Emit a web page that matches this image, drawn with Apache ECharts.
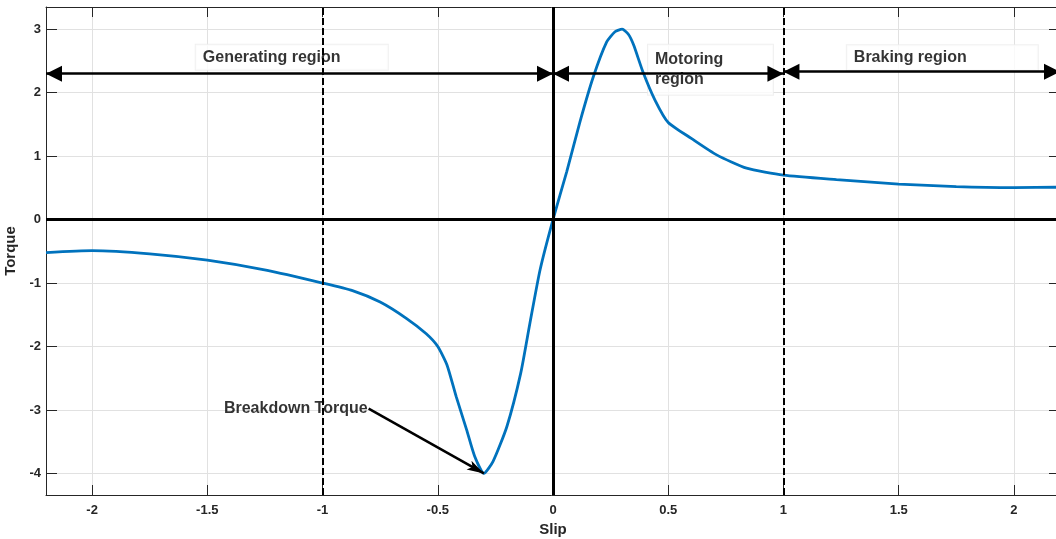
<!DOCTYPE html>
<html>
<head>
<meta charset="utf-8">
<title>Torque - Slip</title>
<script src="https://cdn.jsdelivr.net/npm/echarts@6.0.0/dist/echarts.min.js"></script>
<style>
  html, body { margin: 0; padding: 0; background: #fff; }
  #main { width: 1056px; height: 539px; }
</style>
</head>
<body>
<div id="main"></div>
<script>
// values
const slip   = [-2.2, -2, -1.75, -1.5, -1.24, -1, -0.87, -0.75, -0.635, -0.55, -0.5, -0.46, -0.42, -0.375, -0.34, -0.3, -0.26, -0.2, -0.14, -0.1, -0.056, 0, 0.06, 0.117, 0.175, 0.233, 0.269, 0.3, 0.327, 0.35, 0.39, 0.443, 0.5, 0.6, 0.71, 0.84, 1, 1.23, 1.5, 1.75, 2, 2.2];
const torque = [-0.52, -0.49, -0.54, -0.64, -0.8, -1.0, -1.12, -1.3, -1.56, -1.8, -2.0, -2.29, -2.79, -3.31, -3.73, -4.0, -3.81, -3.26, -2.42, -1.63, -0.79, 0, 0.76, 1.54, 2.25, 2.8, 2.96, 3.0, 2.92, 2.75, 2.33, 1.88, 1.53, 1.28, 1.02, 0.81, 0.7, 0.63, 0.56, 0.52, 0.505, 0.51];

const xRange = [-2.2, 2.2];
const yRange = [-4.34, 3.35];

const solidLinesX = [0];
const solidLinesY = [0];
const dashedLinesX = [-1, 1];

const regionNames = ['Generating region', 'Motoring\nregion', 'Braking region'];
const regionFrom  = [-2.2, 0, 1];
const regionTo    = [0, 1, 2.2];
const regionY     = [2.3, 2.3, 2.33];

const breakdownFrom = [-0.8, -2.98];
const breakdownTo   = [-0.3, -4];

const font = "'Liberation Sans', Arial, Helvetica, sans-serif";
const axisColor = '#262626';
const gridColor = '#e1e1e1';

// arrow heads with their tip at the symbol centre
const headBig = 'path://M0,0 L8,16 L-8,16 Z M0,-16 L0,-16';
const headSmall = 'path://M0,0 L5,17 L0,13 L-5,17 Z M0,-17 L0,-17';

const boxLabel = {
  show: true,
  position: 'right',
  distance: 0,
  fontFamily: font,
  fontSize: 16,
  fontWeight: 'bold',
  color: '#000',
  backgroundColor: '#fff',
  borderColor: '#ececec',
  borderWidth: 1
};

const chart = echarts.init(document.getElementById('main'));

const option = {
  animation: false,
  textStyle: { fontFamily: font },
  grid: { left: 46, top: 7, width: 1014, height: 488, outerBoundsMode: 'none' },
  xAxis: [
    {
      type: 'value', min: xRange[0], max: xRange[1], splitNumber: 9, position: 'bottom',
      name: 'Slip', nameLocation: 'middle', nameGap: 27,
      nameTextStyle: { fontFamily: font, fontSize: 15, fontWeight: 'bold', color: axisColor },
      axisLine: { onZero: false, lineStyle: { color: axisColor, width: 1 } },
      axisTick: { inside: true, length: 10, lineStyle: { color: axisColor } },
      axisLabel: { margin: 9, fontFamily: font, fontSize: 13, fontWeight: 'bold', color: axisColor, showMinLabel: false, showMaxLabel: false },
      splitLine: { show: true, lineStyle: { color: gridColor, width: 1 } }
    },
    {
      type: 'value', min: xRange[0], max: xRange[1], splitNumber: 9, position: 'top',
      axisLine: { onZero: false, lineStyle: { color: axisColor, width: 1 } },
      axisTick: { inside: true, length: 10, lineStyle: { color: axisColor } },
      axisLabel: { show: false },
      splitLine: { show: false }
    }
  ],
  yAxis: [
    {
      type: 'value', min: yRange[0], max: yRange[1], splitNumber: 8, position: 'left',
      name: 'Torque', nameLocation: 'middle', nameGap: 24,
      nameTextStyle: { fontFamily: font, fontSize: 15, fontWeight: 'bold', color: axisColor },
      axisLine: { onZero: false, lineStyle: { color: axisColor, width: 1 } },
      axisTick: { inside: true, length: 11, lineStyle: { color: axisColor } },
      axisLabel: { margin: 5, fontFamily: font, fontSize: 13, fontWeight: 'bold', color: axisColor, showMinLabel: false, showMaxLabel: false },
      splitLine: { show: true, lineStyle: { color: gridColor, width: 1 } }
    },
    {
      type: 'value', min: yRange[0], max: yRange[1], splitNumber: 8, position: 'right',
      axisLine: { onZero: false, lineStyle: { color: axisColor, width: 1 } },
      axisTick: { inside: true, length: 11, lineStyle: { color: axisColor } },
      axisLabel: { show: false },
      splitLine: { show: false }
    }
  ],
  series: [
    {
      name: 'labels',
      type: 'scatter',
      z: 1,
      silent: true,
      symbolSize: 0,
      data: [
        { value: [-1.55, 2.56], label: Object.assign({}, boxLabel, { formatter: regionNames[0], width: 178, lineHeight: 18, padding: [5, 7, 2, 7] }) },
        { value: [0.412, 2.36], label: Object.assign({}, boxLabel, { formatter: regionNames[1], width: 111, lineHeight: 20, padding: [6, 7, 4, 7] }) },
        { value: [1.275, 2.55], label: Object.assign({}, boxLabel, { formatter: regionNames[2], width: 177, lineHeight: 18, padding: [5, 7, 2, 7] }) },
        {
          value: breakdownFrom,
          label: { show: true, position: 'left', distance: 1, formatter: 'Breakdown Torque', fontFamily: font, fontSize: 16, fontWeight: 'bold', color: '#000' }
        }
      ]
    },
    {
      name: 'Torque',
      type: 'line',
      z: 3,
      data: slip.map((s, i) => [s, torque[i]]),
      showSymbol: false,
      smooth: 0.2,
      lineStyle: { color: '#0072BD', width: 2.8 }
    },
    {
      name: 'axes lines',
      type: 'line',
      z: 4,
      data: [],
      markLine: {
        silent: true,
        symbol: 'none',
        label: { show: false },
        data: [
          ...solidLinesX.map(v => ({ xAxis: v, lineStyle: { color: '#000', width: 3, type: 'solid' } })),
          ...solidLinesY.map(v => ({ yAxis: v, lineStyle: { color: '#000', width: 3, type: 'solid' } })),
          ...dashedLinesX.map(v => ({ xAxis: v, lineStyle: { color: '#000', width: 2, type: [7, 3] } }))
        ]
      }
    },
    {
      name: 'arrows',
      type: 'line',
      z: 5,
      data: [],
      markLine: {
        silent: true,
        symbol: [headBig, headBig],
        symbolSize: [16, 32],
        label: { show: false },
        lineStyle: { color: '#000', width: 2.5, type: 'solid' },
        data: [
          ...regionNames.map((n, i) => [{ coord: [regionFrom[i], regionY[i]] }, { coord: [regionTo[i], regionY[i]] }]),
          [
            { coord: breakdownFrom, symbol: 'none' },
            { coord: breakdownTo, symbol: headSmall, symbolSize: [10, 34] }
          ]
        ]
      }
    }
  ]
};

chart.setOption(option);
window.addEventListener('resize', () => chart.resize());
</script>
</body>
</html>
